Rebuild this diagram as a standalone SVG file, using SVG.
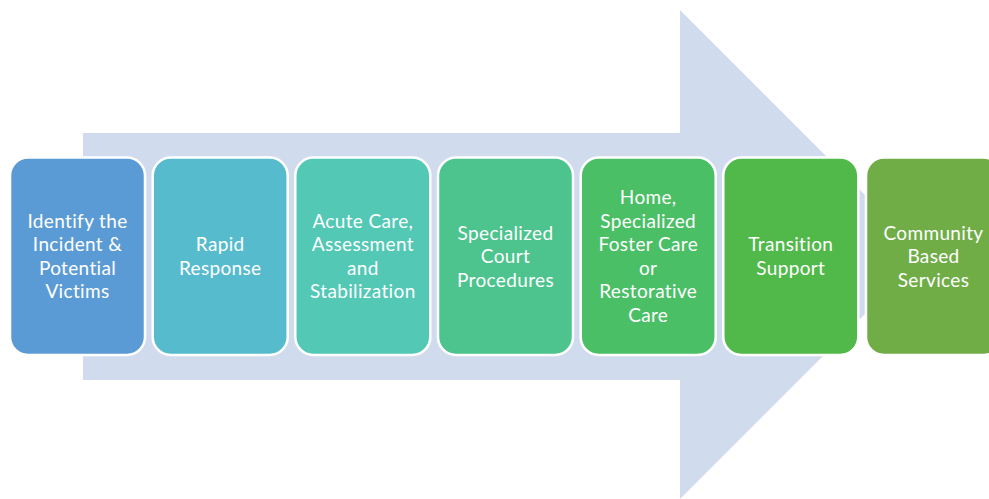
<svg xmlns="http://www.w3.org/2000/svg" width="989" height="499" viewBox="0 0 989 499">
<style>
.box{stroke:#fff;stroke-width:2.5}
.t{font-family:Lato,"Open Sans",sans-serif;font-size:19px;letter-spacing:0.35px;fill:#fff;text-anchor:middle}
</style>
<rect width="989" height="499" fill="#fff"/>
<g id="connectors">
<path d="M83,133 H680 V10 L924.5,254.5 L680,499 V380 H83 Z" fill="#D0DCEE"/>
</g>
<g id="n1"><rect class="box" x="10" y="157.5" width="135" height="197.5" rx="18" fill="#5B9BD5"/>
<text class="t"><tspan x="77.5" y="227.5">Identify the</tspan><tspan x="77.5" y="251">Incident &amp;</tspan><tspan x="77.5" y="274.5">Potential</tspan><tspan x="77.5" y="298">Victims</tspan></text></g>
<g id="n2"><rect class="box" x="152.7" y="157.5" width="135" height="197.5" rx="18" fill="#57BBCE"/>
<text class="t"><tspan x="220.2" y="251">Rapid</tspan><tspan x="220.2" y="274.5">Response</tspan></text></g>
<g id="n3"><rect class="box" x="295.3" y="157.5" width="135" height="197.5" rx="18" fill="#52C8B5"/>
<text class="t"><tspan x="362.8" y="227.5">Acute Care,</tspan><tspan x="362.8" y="251">Assessment</tspan><tspan x="362.8" y="274.5">and</tspan><tspan x="362.8" y="298">Stabilization</tspan></text></g>
<g id="n4"><rect class="box" x="438" y="157.5" width="135" height="197.5" rx="18" fill="#4DC48D"/>
<text class="t"><tspan x="505.5" y="239.5">Specialized</tspan><tspan x="505.5" y="263">Court</tspan><tspan x="505.5" y="286.5">Procedures</tspan></text></g>
<g id="n5"><rect class="box" x="580.7" y="157.5" width="135" height="197.5" rx="18" fill="#4ABF66"/>
<text class="t"><tspan x="648.2" y="204">Home,</tspan><tspan x="648.2" y="227.5">Specialized</tspan><tspan x="648.2" y="251">Foster Care</tspan><tspan x="648.2" y="274.5">or</tspan><tspan x="648.2" y="298">Restorative</tspan><tspan x="648.2" y="321.5">Care</tspan></text></g>
<g id="n6"><rect class="box" x="723.3" y="157.5" width="135" height="197.5" rx="18" fill="#51B84A"/>
<text class="t"><tspan x="790.8" y="251">Transition</tspan><tspan x="790.8" y="274.5">Support</tspan></text></g>
<g id="n7"><rect class="box" x="866" y="157.5" width="135" height="197.5" rx="18" fill="#70AD47"/>
<text class="t"><tspan x="933.5" y="239.5">Community</tspan><tspan x="933.5" y="263">Based</tspan><tspan x="933.5" y="286.5">Services</tspan></text></g>
</svg>
